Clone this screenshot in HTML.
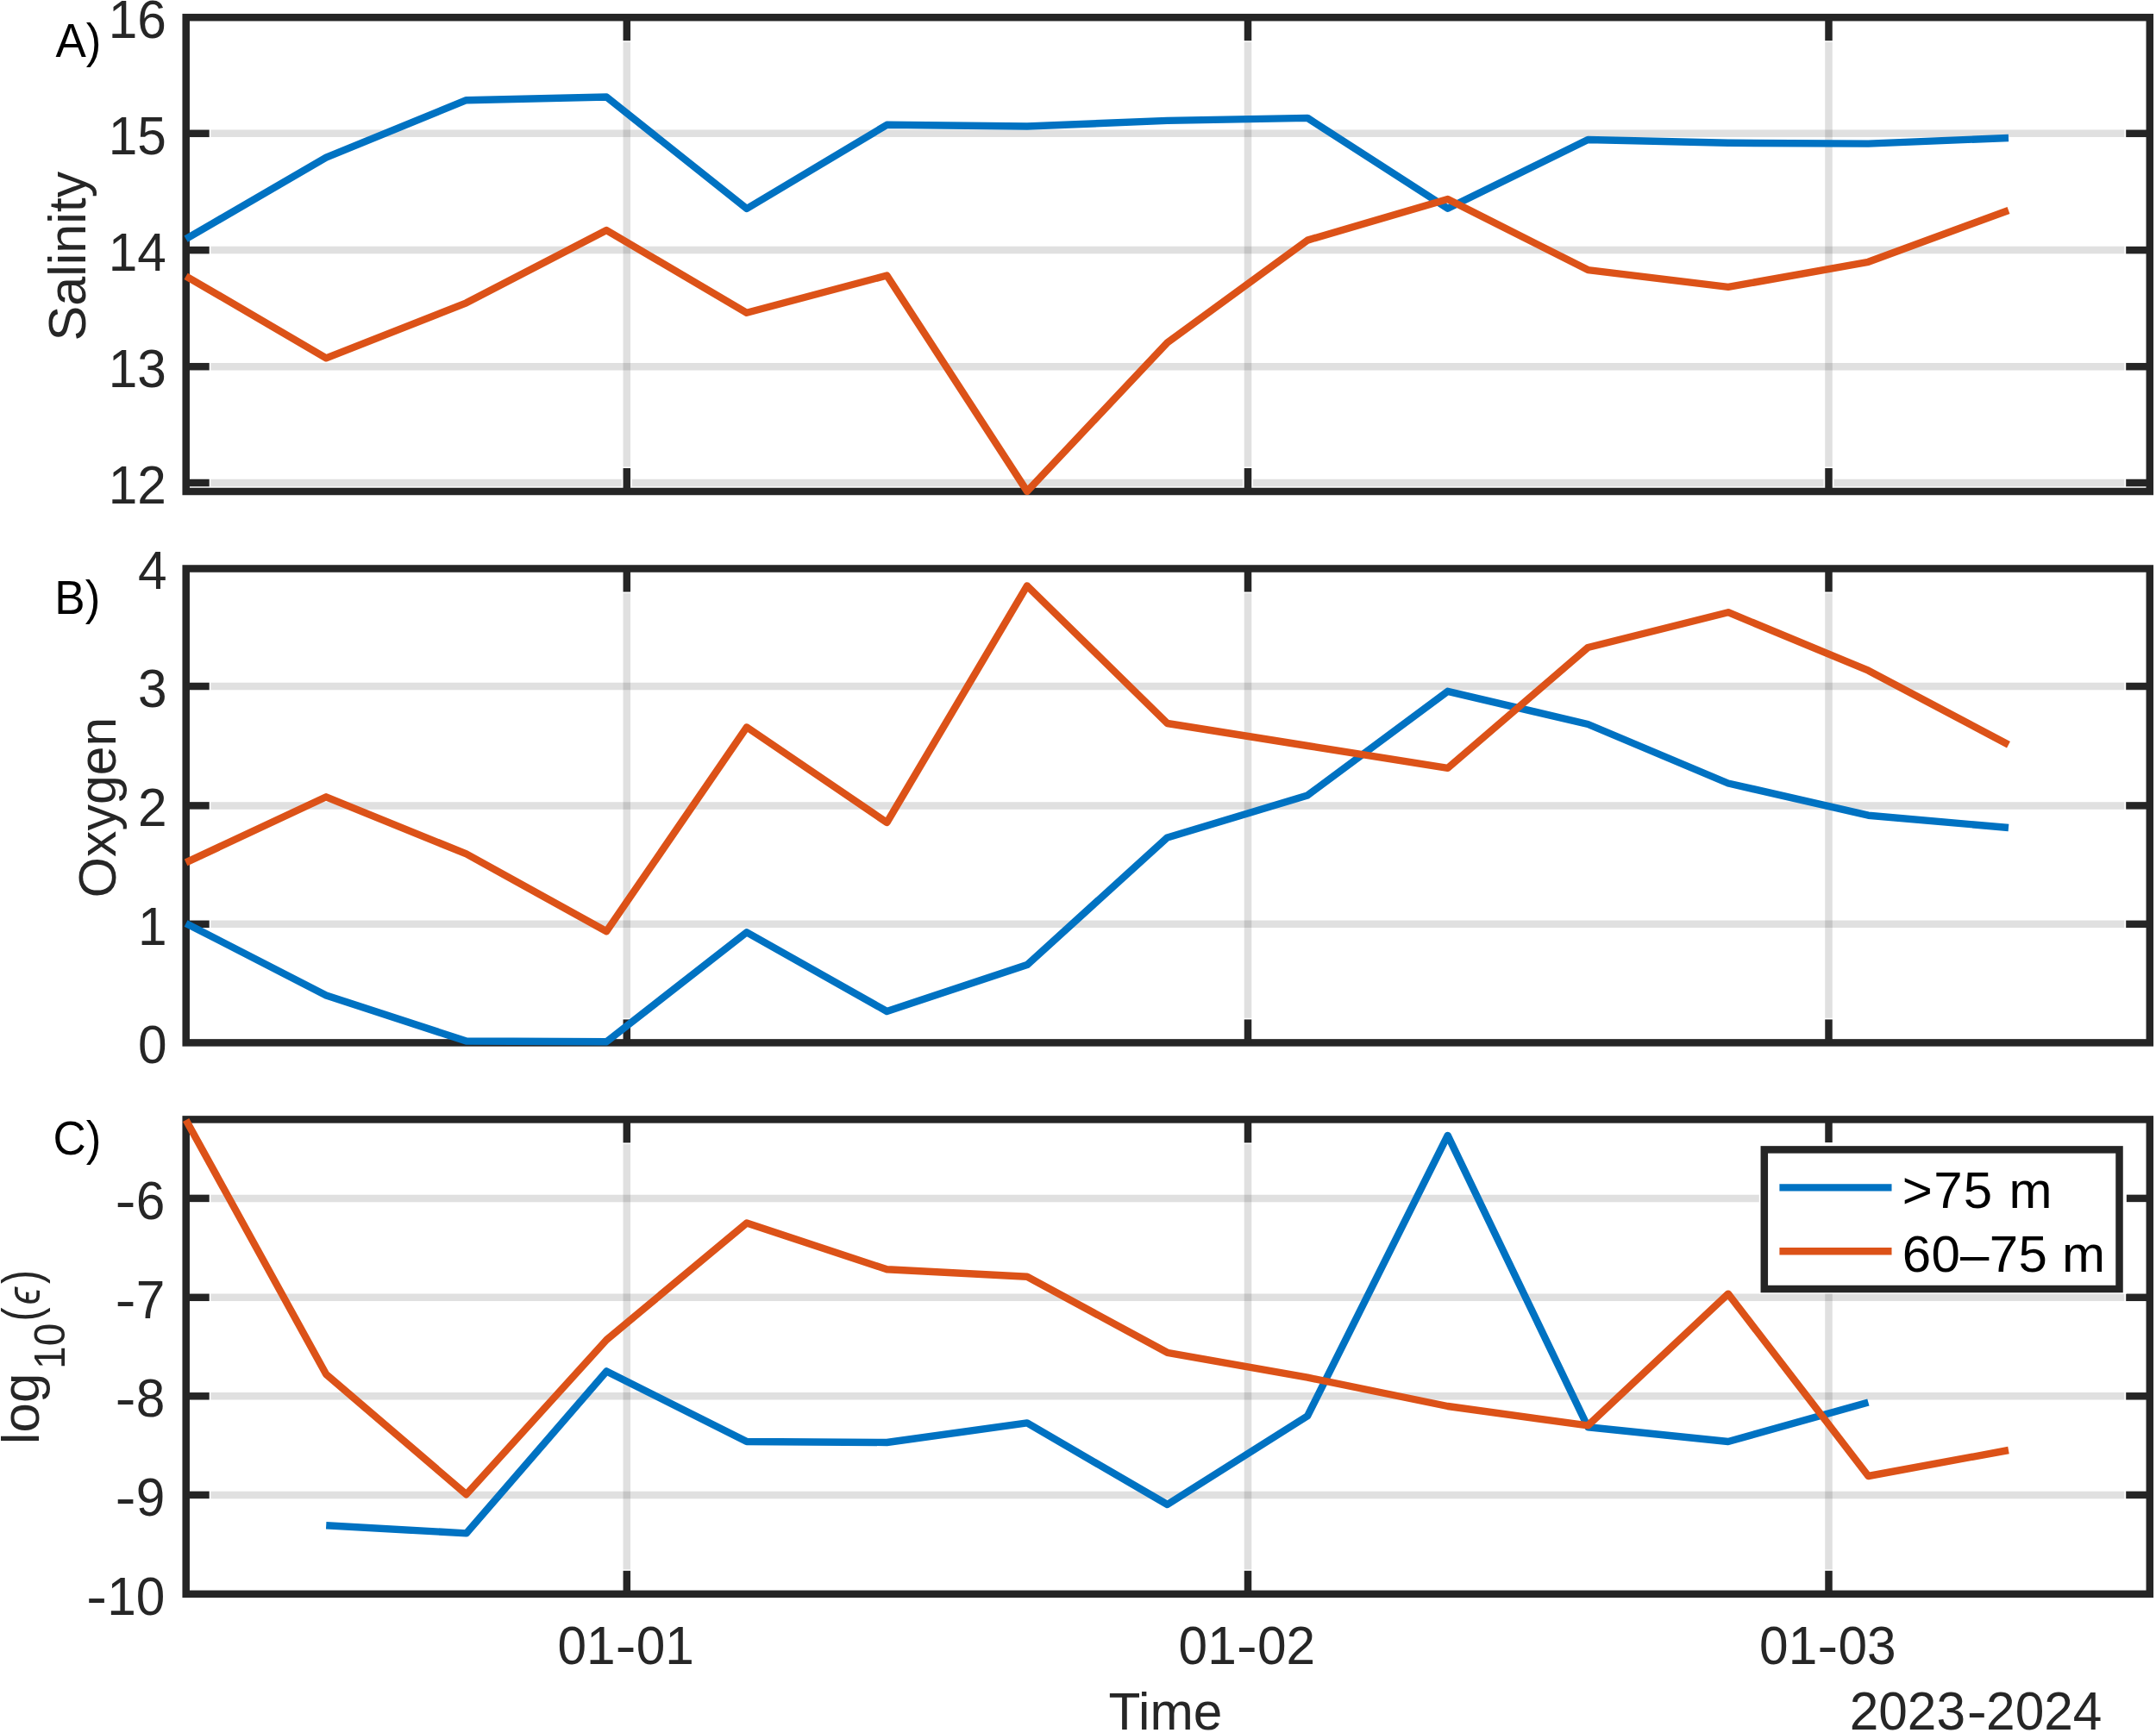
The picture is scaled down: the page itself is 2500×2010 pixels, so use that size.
<!DOCTYPE html>
<html lang="en"><head><meta charset="utf-8"><title>Salinity, oxygen and dissipation time series</title>
<style>
html,body{margin:0;padding:0;background:#fff;}
body{width:2500px;height:2010px;overflow:hidden;}
svg{display:block;}
text{font-family:"Liberation Sans",sans-serif;}
.t{font-size:60.4px;fill:#262626;}
.p{font-size:53px;fill:#000;}
.l{font-size:60px;fill:#000;}
</style></head><body>
<svg width="2500" height="2010" viewBox="0 0 2500 2010">
<rect x="0" y="0" width="2500" height="2010" fill="#fff"/>
<defs>
<clipPath id="cA"><rect x="211.45" y="15.95" width="2285.60" height="558.30"/></clipPath>
<clipPath id="cB"><rect x="211.45" y="655.25" width="2285.60" height="558.40"/></clipPath>
<clipPath id="cC"><rect x="211.45" y="1294.15" width="2285.60" height="558.90"/></clipPath>
</defs>
<g id="panelA">
<g stroke="#262626" stroke-opacity="0.142" stroke-width="8.5" fill="none">
<line x1="726.8" y1="48.8" x2="726.8" y2="541.4"/>
<line x1="1447.0" y1="48.8" x2="1447.0" y2="541.4"/>
<line x1="2120.5" y1="48.8" x2="2120.5" y2="541.4"/>
<line x1="244.3" y1="154.8" x2="2463.4" y2="154.8"/>
<line x1="244.3" y1="290.1" x2="2463.4" y2="290.1"/>
<line x1="244.3" y1="425.2" x2="2463.4" y2="425.2"/>
<line x1="244.3" y1="560.0" x2="2463.4" y2="560.0"/>
</g>
<g stroke="#fff" stroke-width="11.9" fill="none">
<line x1="726.8" y1="20.2" x2="726.8" y2="47.2"/>
<line x1="726.8" y1="570.0" x2="726.8" y2="543.0"/>
<line x1="1447.0" y1="20.2" x2="1447.0" y2="47.2"/>
<line x1="1447.0" y1="570.0" x2="1447.0" y2="543.0"/>
<line x1="2120.5" y1="20.2" x2="2120.5" y2="47.2"/>
<line x1="2120.5" y1="570.0" x2="2120.5" y2="543.0"/>
</g>
<g stroke="#252525" stroke-width="8.5" fill="none">
<rect x="215.7" y="20.2" width="2277.10" height="549.80"/>
<line x1="726.8" y1="20.2" x2="726.8" y2="47.2"/>
<line x1="726.8" y1="570.0" x2="726.8" y2="543.0"/>
<line x1="1447.0" y1="20.2" x2="1447.0" y2="47.2"/>
<line x1="1447.0" y1="570.0" x2="1447.0" y2="543.0"/>
<line x1="2120.5" y1="20.2" x2="2120.5" y2="47.2"/>
<line x1="2120.5" y1="570.0" x2="2120.5" y2="543.0"/>
<line x1="215.7" y1="154.8" x2="242.7" y2="154.8"/>
<line x1="2492.8" y1="154.8" x2="2465.2" y2="154.8"/>
<line x1="215.7" y1="290.1" x2="242.7" y2="290.1"/>
<line x1="2492.8" y1="290.1" x2="2465.2" y2="290.1"/>
<line x1="215.7" y1="425.2" x2="242.7" y2="425.2"/>
<line x1="2492.8" y1="425.2" x2="2465.2" y2="425.2"/>
<line x1="215.7" y1="560.0" x2="242.7" y2="560.0"/>
<line x1="2492.8" y1="560.0" x2="2465.2" y2="560.0"/>
</g>
<g clip-path="url(#cA)" fill="none" stroke-width="8.4" stroke-linejoin="round" stroke-linecap="butt">
<polyline stroke="#0072C2" points="215.6,277.2 378.2,182.6 540.7,116.2 703.3,112.5 865.9,242.0 1028.4,144.8 1191.0,146.5 1353.6,139.9 1516.2,136.9 1678.7,241.8 1841.3,162.0 2003.9,165.8 2166.4,166.6 2329.0,160.0"/>
<polyline stroke="#DC5218" points="215.6,320.3 378.2,415.3 540.7,351.3 703.3,267.1 865.9,362.8 1028.4,319.5 1191.0,569.9 1353.6,397.3 1516.2,278.6 1678.7,231.0 1841.3,313.1 2003.9,332.9 2166.4,303.8 2329.0,244.0"/>
</g>
</g>
<g id="panelB">
<g stroke="#262626" stroke-opacity="0.142" stroke-width="8.5" fill="none">
<line x1="726.8" y1="688.1" x2="726.8" y2="1180.8"/>
<line x1="1447.0" y1="688.1" x2="1447.0" y2="1180.8"/>
<line x1="2120.5" y1="688.1" x2="2120.5" y2="1180.8"/>
<line x1="244.3" y1="796.0" x2="2463.4" y2="796.0"/>
<line x1="244.3" y1="934.4" x2="2463.4" y2="934.4"/>
<line x1="244.3" y1="1071.8" x2="2463.4" y2="1071.8"/>
</g>
<g stroke="#fff" stroke-width="11.9" fill="none">
<line x1="726.8" y1="659.5" x2="726.8" y2="686.5"/>
<line x1="726.8" y1="1209.4" x2="726.8" y2="1182.4"/>
<line x1="1447.0" y1="659.5" x2="1447.0" y2="686.5"/>
<line x1="1447.0" y1="1209.4" x2="1447.0" y2="1182.4"/>
<line x1="2120.5" y1="659.5" x2="2120.5" y2="686.5"/>
<line x1="2120.5" y1="1209.4" x2="2120.5" y2="1182.4"/>
</g>
<g stroke="#252525" stroke-width="8.5" fill="none">
<rect x="215.7" y="659.5" width="2277.10" height="549.90"/>
<line x1="726.8" y1="659.5" x2="726.8" y2="686.5"/>
<line x1="726.8" y1="1209.4" x2="726.8" y2="1182.4"/>
<line x1="1447.0" y1="659.5" x2="1447.0" y2="686.5"/>
<line x1="1447.0" y1="1209.4" x2="1447.0" y2="1182.4"/>
<line x1="2120.5" y1="659.5" x2="2120.5" y2="686.5"/>
<line x1="2120.5" y1="1209.4" x2="2120.5" y2="1182.4"/>
<line x1="215.7" y1="796.0" x2="242.7" y2="796.0"/>
<line x1="2492.8" y1="796.0" x2="2465.2" y2="796.0"/>
<line x1="215.7" y1="934.4" x2="242.7" y2="934.4"/>
<line x1="2492.8" y1="934.4" x2="2465.2" y2="934.4"/>
<line x1="215.7" y1="1071.8" x2="242.7" y2="1071.8"/>
<line x1="2492.8" y1="1071.8" x2="2465.2" y2="1071.8"/>
</g>
<g clip-path="url(#cB)" fill="none" stroke-width="8.4" stroke-linejoin="round" stroke-linecap="butt">
<polyline stroke="#0072C2" points="215.6,1070.9 378.2,1154.4 540.7,1207.5 703.3,1208.2 865.9,1081.3 1028.4,1173.0 1191.0,1119.1 1353.6,971.4 1516.2,922.4 1678.7,801.8 1841.3,840.0 2003.9,908.5 2166.4,945.7 2329.0,960.0"/>
<polyline stroke="#DC5218" points="215.6,1000.4 378.2,924.3 540.7,990.4 703.3,1080.2 865.9,843.4 1028.4,954.0 1191.0,679.4 1353.6,839.0 1516.2,865.0 1678.7,890.9 1841.3,751.0 2003.9,710.2 2166.4,777.7 2329.0,863.7"/>
</g>
</g>
<g id="panelC">
<g stroke="#262626" stroke-opacity="0.142" stroke-width="8.5" fill="none">
<line x1="726.8" y1="1327.0" x2="726.8" y2="1820.2"/>
<line x1="1447.0" y1="1327.0" x2="1447.0" y2="1820.2"/>
<line x1="2120.5" y1="1327.0" x2="2120.5" y2="1820.2"/>
<line x1="244.3" y1="1389.9" x2="2463.4" y2="1389.9"/>
<line x1="244.3" y1="1504.8" x2="2463.4" y2="1504.8"/>
<line x1="244.3" y1="1619.3" x2="2463.4" y2="1619.3"/>
<line x1="244.3" y1="1733.9" x2="2463.4" y2="1733.9"/>
</g>
<g stroke="#fff" stroke-width="11.9" fill="none">
<line x1="726.8" y1="1298.4" x2="726.8" y2="1325.4"/>
<line x1="726.8" y1="1848.8" x2="726.8" y2="1821.8"/>
<line x1="1447.0" y1="1298.4" x2="1447.0" y2="1325.4"/>
<line x1="1447.0" y1="1848.8" x2="1447.0" y2="1821.8"/>
<line x1="2120.5" y1="1298.4" x2="2120.5" y2="1325.4"/>
<line x1="2120.5" y1="1848.8" x2="2120.5" y2="1821.8"/>
</g>
<g stroke="#252525" stroke-width="8.5" fill="none">
<rect x="215.7" y="1298.4" width="2277.10" height="550.40"/>
<line x1="726.8" y1="1298.4" x2="726.8" y2="1325.4"/>
<line x1="726.8" y1="1848.8" x2="726.8" y2="1821.8"/>
<line x1="1447.0" y1="1298.4" x2="1447.0" y2="1325.4"/>
<line x1="1447.0" y1="1848.8" x2="1447.0" y2="1821.8"/>
<line x1="2120.5" y1="1298.4" x2="2120.5" y2="1325.4"/>
<line x1="2120.5" y1="1848.8" x2="2120.5" y2="1821.8"/>
<line x1="215.7" y1="1389.9" x2="242.7" y2="1389.9"/>
<line x1="2492.8" y1="1389.9" x2="2465.2" y2="1389.9"/>
<line x1="215.7" y1="1504.8" x2="242.7" y2="1504.8"/>
<line x1="2492.8" y1="1504.8" x2="2465.2" y2="1504.8"/>
<line x1="215.7" y1="1619.3" x2="242.7" y2="1619.3"/>
<line x1="2492.8" y1="1619.3" x2="2465.2" y2="1619.3"/>
<line x1="215.7" y1="1733.9" x2="242.7" y2="1733.9"/>
<line x1="2492.8" y1="1733.9" x2="2465.2" y2="1733.9"/>
</g>
<g clip-path="url(#cC)" fill="none" stroke-width="8.4" stroke-linejoin="round" stroke-linecap="butt">
<polyline stroke="#0072C2" points="378.2,1769.2 540.7,1778.4 703.3,1590.4 865.9,1672.0 1028.4,1673.0 1191.0,1650.4 1353.6,1745.0 1516.2,1642.2 1678.7,1316.9 1841.3,1655.2 2003.9,1672.0 2166.4,1626.5"/>
<polyline stroke="#DC5218" points="215.6,1299.0 378.2,1594.0 540.7,1733.2 703.3,1554.0 865.9,1418.5 1028.4,1472.3 1191.0,1480.8 1353.6,1568.8 1516.2,1597.7 1678.7,1631.0 1841.3,1653.4 2003.9,1500.6 2166.4,1712.0 2329.0,1682.0"/>
</g>
</g>
<text class="t" transform="translate(192.90 43.90) scale(1 1.035)" text-anchor="end">16</text>
<text class="t" transform="translate(192.90 178.50) scale(1 1.035)" text-anchor="end">15</text>
<text class="t" transform="translate(192.90 313.80) scale(1 1.035)" text-anchor="end">14</text>
<text class="t" transform="translate(192.90 448.90) scale(1 1.035)" text-anchor="end">13</text>
<text class="t" transform="translate(192.90 583.70) scale(1 1.035)" text-anchor="end">12</text>
<text class="t" transform="translate(193.60 683.20) scale(1 1.035)" text-anchor="end">4</text>
<text class="t" transform="translate(193.60 819.70) scale(1 1.035)" text-anchor="end">3</text>
<text class="t" transform="translate(193.60 958.10) scale(1 1.035)" text-anchor="end">2</text>
<text class="t" transform="translate(193.60 1095.50) scale(1 1.035)" text-anchor="end">1</text>
<text class="t" transform="translate(193.60 1233.10) scale(1 1.035)" text-anchor="end">0</text>
<text class="t" transform="translate(191.30 1413.60) scale(1 1.035)" text-anchor="end"><tspan textLength="24.1" lengthAdjust="spacingAndGlyphs">-</tspan>6</text>
<text class="t" transform="translate(191.30 1528.50) scale(1 1.035)" text-anchor="end"><tspan textLength="24.1" lengthAdjust="spacingAndGlyphs">-</tspan>7</text>
<text class="t" transform="translate(191.30 1643.00) scale(1 1.035)" text-anchor="end"><tspan textLength="24.1" lengthAdjust="spacingAndGlyphs">-</tspan>8</text>
<text class="t" transform="translate(191.30 1757.60) scale(1 1.035)" text-anchor="end"><tspan textLength="24.1" lengthAdjust="spacingAndGlyphs">-</tspan>9</text>
<text class="t" transform="translate(191.30 1872.50) scale(1 1.035)" text-anchor="end"><tspan textLength="24.1" lengthAdjust="spacingAndGlyphs">-</tspan>10</text>
<text class="t" transform="translate(646.40 1930.20) scale(1 1.035)">01<tspan textLength="24.1" lengthAdjust="spacingAndGlyphs">-</tspan><tspan dx="0.1">01</tspan></text>
<text class="t" transform="translate(1366.60 1930.20) scale(1 1.035)">01<tspan textLength="24.1" lengthAdjust="spacingAndGlyphs">-</tspan><tspan dx="0.1">02</tspan></text>
<text class="t" transform="translate(2040.10 1930.20) scale(1 1.035)">01<tspan textLength="24.1" lengthAdjust="spacingAndGlyphs">-</tspan><tspan dx="0.1">03</tspan></text>
<text class="t" transform="translate(1285.40 2005.80) scale(1 1.02)">Time</text>
<text class="t" transform="translate(2144.70 2005.80) scale(1 1.035)">2023<tspan dx="1.8" textLength="23.1" lengthAdjust="spacingAndGlyphs">-</tspan><tspan dx="-0.9">2024</tspan></text>
<text class="t" transform="translate(99.30 297.10) rotate(-90)" style="font-size:61px" text-anchor="middle">Salinity</text>
<text class="t" transform="translate(134.00 936.40) rotate(-90)" style="font-size:60.8px" text-anchor="middle">Oxygen</text>
<text class="t" transform="translate(44.50 1675.20) rotate(-90)"><tspan style="font-size:62px">log</tspan><tspan x="87.3" y="30.5" style="font-size:50.5px" textLength="53.4" lengthAdjust="spacingAndGlyphs">10</tspan><tspan x="142.6" y="0" style="font-size:61px" textLength="16.0" lengthAdjust="spacingAndGlyphs">(</tspan><tspan x="162.0" y="1.1" style="font-size:52.8px;font-style:italic" textLength="20.25" lengthAdjust="spacingAndGlyphs">&#x3f5;</tspan><tspan x="186.3" y="0" style="font-size:61px" textLength="16.0" lengthAdjust="spacingAndGlyphs">)</tspan></text>
<text class="p" transform="translate(64.50 65.80) scale(1 1.05)">A)</text>
<text class="p" transform="translate(63.30 712.20) scale(1 1.05)">B)</text>
<text class="p" transform="translate(61.60 1338.70) scale(1 1.05)">C)</text>
<g id="legend">
<rect x="2039.8" y="1325.2" width="426" height="175.4" fill="#fff"/>
<rect x="2045.8" y="1333.4" width="411.7" height="161.6" fill="#fff" stroke="#252525" stroke-width="8.5"/>
<line x1="2063.4" y1="1377.4" x2="2193.5" y2="1377.4" stroke="#0072C2" stroke-width="8.4"/>
<line x1="2063.4" y1="1451.2" x2="2193.5" y2="1451.2" stroke="#DC5218" stroke-width="8.4"/>
<text class="l" transform="translate(2205.80 1401.10)" textLength="173.7">&gt;75 m</text>
<text class="l" transform="translate(2205.80 1475.00)" textLength="235.2">60&#x2013;75 m</text>
</g>
</svg>
</body></html>
